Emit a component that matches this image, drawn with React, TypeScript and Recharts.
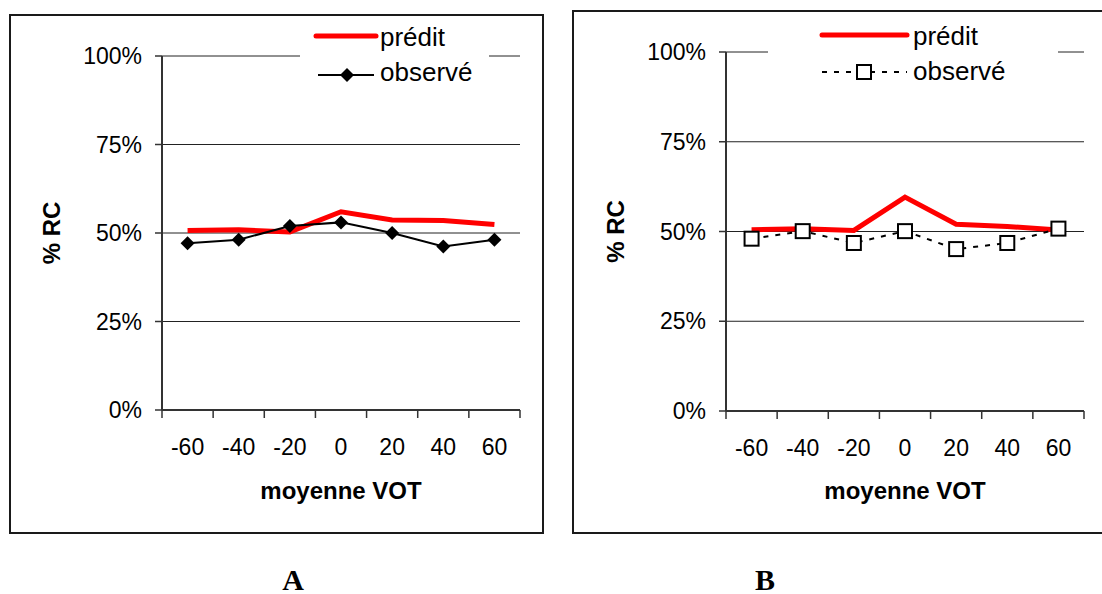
import React from "react";
import { LineChart, Line, XAxis, YAxis, CartesianGrid } from "recharts";

// mean VOT categories (ms) and % RC values
const vot = [-60, -40, -20, 0, 20, 40, 60];
const xTicks = [-70, -60, -50, -40, -30, -20, -10, 0, 10, 20, 30, 40, 50, 60, 70];
const yTicks = [0, 0.25, 0.5, 0.75, 1];
const seriesNames = ["prédit", "observé"];

const predA = [0.507, 0.509, 0.503, 0.56, 0.537, 0.535, 0.524];
const obsA = [0.471, 0.481, 0.52, 0.53, 0.5, 0.462, 0.481];

const predB = [0.505, 0.508, 0.503, 0.596, 0.52, 0.514, 0.504];
const obsB = [0.48, 0.501, 0.468, 0.501, 0.451, 0.468, 0.508];

const FONT = "'Liberation Sans', Arial, sans-serif";
const CHART_H = 540;

const toRows = (pred: number[], obs: number[]) =>
  vot.map((v, i) => ({ vot: v, pred: pred[i], obs: obs[i] }));

const Diamond = (props: any) => {
  const { cx, cy } = props;
  if (cx == null || cy == null) return null;
  const r = 7;
  return (
    <polygon
      points={`${cx},${cy - r} ${cx + r},${cy} ${cx},${cy + r} ${cx - r},${cy}`}
      fill="#000"
    />
  );
};

const Square = (props: any) => {
  const { cx, cy } = props;
  if (cx == null || cy == null) return null;
  return <rect x={cx - 7} y={cy - 7} width={14} height={14} fill="#fff" stroke="#000" strokeWidth={2} />;
};

// ticks between categories, labels on the categories (Excel style)
const VotTick = (props: any) => {
  const { x, payload, bottom } = props;
  const v = payload.value;
  if (vot.includes(v)) {
    return (
      <text x={x} y={bottom + 45} textAnchor="middle" fontSize={23} fontFamily={FONT} fill="#000">
        {v}
      </text>
    );
  }
  return <line x1={x} x2={x} y1={bottom} y2={bottom + 8} stroke="#333" strokeWidth={1.5} />;
};

interface PanelProps {
  left: number;
  width: number;
  plot: { l: number; t: number; r: number; b: number };
  rows: any[];
  titleX: number;
  dashed: boolean;
}

function Panel({ left, width, plot, rows, titleX, dashed }: PanelProps) {
  const yAxisW = 80;
  const xAxisH = 40;
  const margin = {
    top: plot.t,
    left: plot.l - yAxisW,
    right: width - plot.r,
    bottom: CHART_H - plot.b - xAxisH,
  };
  const midY = (plot.t + plot.b) / 2;
  const midX = (plot.l + plot.r) / 2;

  return (
    <div style={{ position: "absolute", left, top: 0 }}>
      <LineChart width={width} height={CHART_H} data={rows} margin={margin}>
        <CartesianGrid vertical={false} stroke="#222" strokeWidth={1} />
        <XAxis
          type="number"
          dataKey="vot"
          domain={[-70, 70]}
          ticks={xTicks}
          interval={0}
          height={xAxisH}
          tickLine={false}
          axisLine={{ stroke: "#333", strokeWidth: 2 }}
          tick={<VotTick bottom={plot.b} />}
          label={() => (
            <text x={midX} y={499} textAnchor="middle" fontSize={24} fontWeight="bold" fontFamily={FONT} fill="#000">
              moyenne VOT
            </text>
          )}
        />
        <XAxis
          xAxisId="top"
          orientation="top"
          type="number"
          domain={[-70, 70]}
          height={0}
          tick={false}
          tickLine={false}
          axisLine={{ stroke: "#888", strokeWidth: 2.5 }}
        />
        <YAxis
          domain={[0, 1]}
          ticks={yTicks}
          interval={0}
          width={yAxisW}
          tickSize={7}
          tickMargin={13}
          tickFormatter={(v: number) => `${Math.round(v * 100)}%`}
          tick={{ fill: "#000", fontSize: 23, fontFamily: FONT }}
          tickLine={{ stroke: "#333", strokeWidth: 1.5 }}
          axisLine={{ stroke: "#333", strokeWidth: 2 }}
          label={() => (
            <text
              x={titleX}
              y={midY}
              transform={`rotate(-90 ${titleX} ${midY})`}
              textAnchor="middle"
              dominantBaseline="central"
              fontSize={24}
              fontWeight="bold"
              fontFamily={FONT}
              fill="#000"
            >
              % RC
            </text>
          )}
        />
        <YAxis
          yAxisId="right"
          orientation="right"
          domain={[0, 1]}
          width={0}
          tick={false}
          tickLine={false}
          axisLine={{ stroke: "#888", strokeWidth: 2.5 }}
        />
        <Line
          type="linear"
          dataKey="pred"
          name={seriesNames[0]}
          stroke="#ff0000"
          strokeWidth={5}
          dot={false}
          isAnimationActive={false}
        />
        <Line
          type="linear"
          dataKey="obs"
          name={seriesNames[1]}
          stroke="#000"
          strokeWidth={2}
          strokeDasharray={dashed ? "5 7" : undefined}
          dot={dashed ? <Square /> : <Diamond />}
          isAnimationActive={false}
        />
      </LineChart>
    </div>
  );
}

export default function App() {
  return (
    <>
      <style>{"html,body{margin:0;padding:0;overflow:hidden;background:#fff}"}</style>
      <div
        style={{
          position: "relative",
          width: 1102,
          height: 594,
          overflow: "hidden",
          background: "#fff",
          fontFamily: FONT,
        }}
      >
        {/* panel frames */}
        <div style={{ position: "absolute", left: 9, top: 14, width: 535, height: 520, border: "2px solid #1a1a1a", boxSizing: "border-box" }} />
        <div style={{ position: "absolute", left: 572, top: 10, width: 560, height: 524, border: "2px solid #1a1a1a", boxSizing: "border-box" }} />

        <Panel left={0} width={545} plot={{ l: 162, t: 56, r: 520, b: 410 }} rows={toRows(predA, obsA)} titleX={51} dashed={false} />
        <Panel left={560} width={542} plot={{ l: 166, t: 52, r: 524, b: 411 }} rows={toRows(predB, obsB)} titleX={55} dashed={true} />

        {/* legends and panel letters */}
        <svg width={1102} height={594} style={{ position: "absolute", left: 0, top: 0, pointerEvents: "none" }}>
          <g fontFamily={FONT} fontSize={26} fill="#000">
            <rect x={300} y={18} width={189} height={72} fill="#fff" />
            <line x1={316} x2={376} y1={36} y2={36} stroke="#ff0000" strokeWidth={5} strokeLinecap="round" />
            <text x={380} y={46}>{seriesNames[0]}</text>
            <line x1={318} x2={374} y1={75} y2={75} stroke="#000" strokeWidth={2} />
            <Diamond cx={347} cy={75} />
            <text x={380} y={81}>{seriesNames[1]}</text>

            <rect x={768} y={14} width={290} height={72} fill="#fff" />
            <line x1={822} x2={907} y1={35} y2={35} stroke="#ff0000" strokeWidth={5} strokeLinecap="round" />
            <text x={913} y={45}>{seriesNames[0]}</text>
            <line x1={822} x2={907} y1={72} y2={72} stroke="#000" strokeWidth={2} strokeDasharray="5 7" />
            <Square cx={864} cy={72} />
            <text x={913} y={80}>{seriesNames[1]}</text>
          </g>
          <g fontFamily="'Liberation Serif', 'Times New Roman', serif" fontSize={30} fontWeight="bold" fill="#000" textAnchor="middle">
            <text x={293} y={590}>A</text>
            <text x={765} y={590}>B</text>
          </g>
        </svg>
      </div>
    </>
  );
}
